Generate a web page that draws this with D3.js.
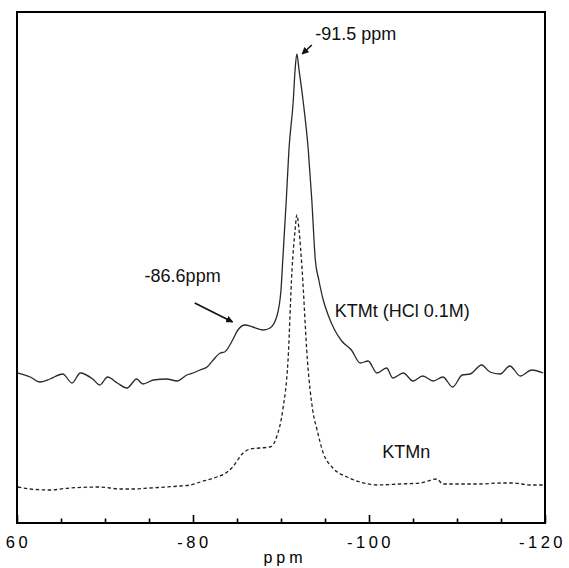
<!DOCTYPE html>
<html>
<head>
<meta charset="utf-8">
<script src="https://cdn.jsdelivr.net/npm/d3@7"></script>
<style>
  body { margin: 0; background: #fff; }
  svg { display: block; font-family: "Liberation Sans", Arial, sans-serif; }
</style>
</head>
<body>
<div id="chart"></div>
<script>
// chemical shift (ppm) and intensity
const ktmtPpm = [-60.1, -61.5, -62.6, -63.75, -65.2, -66.25, -67.2, -68.6, -69.4, -70.3, -71.4, -72.5, -73.6, -74.3, -75.5, -77.0, -78.2, -79.3, -80.0, -80.8, -81.6, -82.3, -83.1, -83.6, -84.5, -85.1, -85.9, -86.8, -88.0, -88.75, -89.5, -90.0, -90.2, -90.6, -90.9, -91.4, -91.6, -91.8, -92.05, -92.5, -93.1, -93.5, -93.9, -94.3, -94.8, -95.4, -96.1, -96.9, -98.0, -99.0, -99.9, -100.9, -102.0, -102.7, -103.9, -105.0, -106.1, -107.3, -108.4, -109.5, -110.6, -111.5, -112.8, -113.75, -114.9, -116.0, -117.2, -118.5, -119.8];
const ktmtInt = [150, 146, 141, 144, 149, 140, 150, 144, 138, 146, 140, 135, 144, 139, 143, 144, 142, 148, 150, 153, 156, 163, 170, 171, 183, 193, 198, 196, 193, 195, 206, 233, 263, 323, 373, 423, 453, 469, 453, 423, 373, 323, 263, 243, 223, 207, 193, 182, 173, 160, 162, 150, 155, 145, 150, 142, 147, 142, 146, 136, 148, 149, 158, 151, 149, 157, 147, 153, 150];

const ktmnPpm = [-60.1, -61.5, -63.75, -66.0, -69.4, -71.7, -73.2, -75.1, -77.0, -78.5, -79.7, -80.8, -81.6, -82.7, -83.9, -84.5, -85.7, -86.5, -87.6, -88.75, -89.5, -90.2, -90.8, -91.25, -91.6, -91.8, -92.05, -92.4, -93.0, -93.6, -94.1, -94.8, -95.9, -97.5, -99.0, -100.9, -103.5, -105.8, -107.7, -108.4, -110.3, -112.6, -114.9, -116.4, -118.3, -119.8];
const ktmnInt = [36, 34, 33, 35, 36, 34, 34, 35, 36, 37, 38, 41, 43, 46, 51, 56, 70, 74, 75, 76, 86, 113, 163, 253, 293, 308, 293, 253, 163, 113, 93, 70, 55, 46, 41, 38, 39, 40, 44, 39, 39, 39, 40, 40, 38, 38];

const majorTicks = [-60, -80, -100, -120];
const tickLabels = ["60", "-80", "-100", "-120"];
const minorTicks = [-65, -70, -75, -85, -90, -95, -105, -110, -115];

const width = 569, height = 568;
const margin = { top: 12, right: 24, bottom: 45, left: 17 };

const svg = d3.select("#chart").append("svg")
  .attr("width", width)
  .attr("height", height);

const x = d3.scaleLinear().domain([-60, -120]).range([margin.left, width - margin.right]);
const y = d3.scaleLinear().domain([0, 511]).range([height - margin.bottom, margin.top]);

// arrow head
svg.append("defs").append("marker")
  .attr("id", "head")
  .attr("viewBox", "0 0 10 10")
  .attr("refX", 9).attr("refY", 5)
  .attr("markerWidth", 4.5).attr("markerHeight", 4.5)
  .attr("orient", "auto")
  .append("path")
  .attr("d", "M0,0L10,5L0,10z")
  .attr("fill", "#111");

// spectra
const line = d3.line()
  .x(d => x(d[0]))
  .y(d => y(d[1]))
  .curve(d3.curveMonotoneX);

svg.append("path")
  .datum(d3.zip(ktmtPpm, ktmtInt))
  .attr("d", line)
  .attr("fill", "none")
  .attr("stroke", "#2a2a2a")
  .attr("stroke-width", 1.3);

svg.append("path")
  .datum(d3.zip(ktmnPpm, ktmnInt))
  .attr("d", line)
  .attr("fill", "none")
  .attr("stroke", "#222")
  .attr("stroke-width", 1.3)
  .attr("stroke-dasharray", "3.5,2.5");

// frame
svg.append("rect")
  .attr("x", x(-60)).attr("y", y(511))
  .attr("width", x(-120) - x(-60))
  .attr("height", y(0) - y(511))
  .attr("fill", "none")
  .attr("stroke", "#000")
  .attr("stroke-width", 2);

// ticks point inwards
const axisG = svg.append("g").attr("transform", `translate(0,${y(0)})`);
axisG.call(d3.axisBottom(x).tickValues(minorTicks).tickSize(-4.5).tickFormat(""));
axisG.append("g").call(d3.axisBottom(x).tickValues(majorTicks).tickSize(-8).tickPadding(13)
  .tickFormat((d, i) => tickLabels[i]));
axisG.selectAll(".domain").remove();
axisG.selectAll("line").attr("stroke", "#000").attr("stroke-width", 1.6);
axisG.selectAll("text")
  .attr("fill", "#000")
  .style("font-size", "16.5px")
  .style("letter-spacing", "3.5px")
  .attr("dx", d => d === -120 ? "-3px" : "1px");

svg.append("text")
  .attr("x", (x(-60) + x(-120)) / 2 + 4)
  .attr("y", 563)
  .attr("text-anchor", "middle")
  .style("font-size", "16px")
  .style("letter-spacing", "4px")
  .text("ppm");

// annotations
const notes = [
  { text: "-91.5 ppm", ppm: -93.9, val: 483 },
  { text: "-86.6ppm", ppm: -74.5, val: 241 },
  { text: "KTMt (HCl 0.1M)", ppm: -96.1, val: 206 },
  { text: "KTMn", ppm: -101.5, val: 65 }
];
svg.selectAll(".note").data(notes).enter().append("text")
  .attr("class", "note")
  .attr("x", d => x(d.ppm))
  .attr("y", d => y(d.val))
  .style("font-size", "18px")
  .attr("fill", "#111")
  .text(d => d.text);

const arrows = [
  { from: [-93.5, 478], to: [-92.4, 469] },
  { from: [-80.2, 220], to: [-84.5, 201] }
];
svg.selectAll(".arrow").data(arrows).enter().append("line")
  .attr("class", "arrow")
  .attr("x1", d => x(d.from[0])).attr("y1", d => y(d.from[1]))
  .attr("x2", d => x(d.to[0])).attr("y2", d => y(d.to[1]))
  .attr("stroke", "#111")
  .attr("stroke-width", 1.6)
  .attr("marker-end", "url(#head)");
</script>
</body>
</html>
